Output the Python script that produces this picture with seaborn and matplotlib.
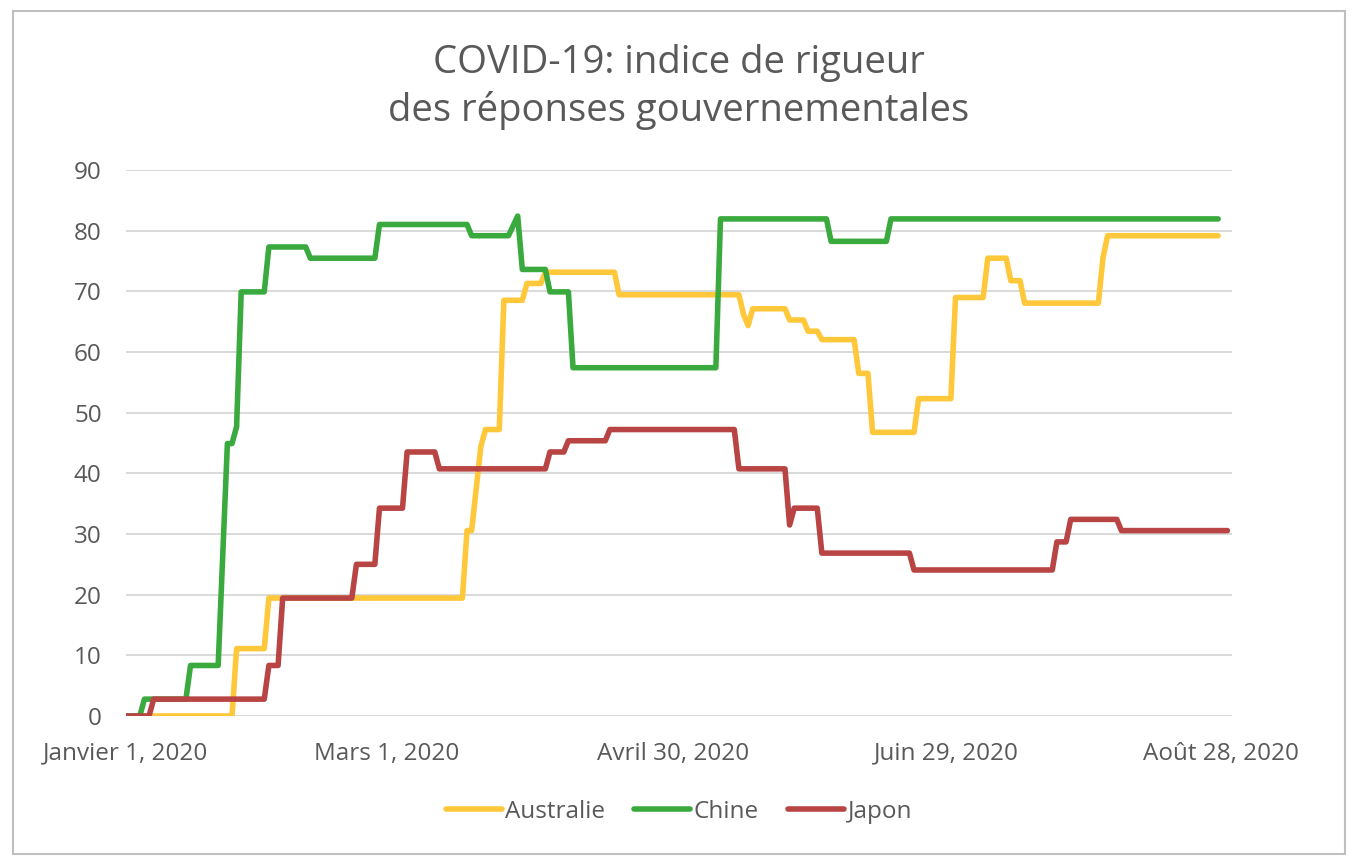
import numpy as np
import pandas as pd
import matplotlib
matplotlib.use("Agg")
import matplotlib.pyplot as plt
import matplotlib.dates as mdates
from matplotlib.lines import Line2D
from matplotlib.patches import Rectangle
from matplotlib.transforms import ScaledTranslation
import seaborn as sns

# ---- Data (change points: day offset from 2020-01-01 -> index value) ----
countries = ["Australie", "Chine", "Japon"]

aus_days = [0, 24, 31, 74, 76, 77, 78, 82, 87, 91, 107, 134, 135, 136, 144, 148,
            151, 159, 162, 172, 180, 187, 192, 195, 212, 213]
aus_vals = [0, 11.11, 19.44, 30.56, 37.5, 44.4, 47.22, 68.52, 71.3, 73.15, 69.44,
            66.2, 64.35, 67.13, 65.28, 63.43, 62.04, 56.48, 46.76, 52.31, 68.98,
            75.46, 71.76, 68.06, 75.5, 79.17]
aus_end = 237

chn_days = [0, 4, 14, 21, 22, 24, 25, 31, 40, 55, 75, 84, 85, 86, 92, 97, 129,
            153, 166]
chn_vals = [0, 2.78, 8.33, 26.6, 44.91, 47.69, 69.91, 77.31, 75.46, 81.02, 79.17,
            80.8, 82.41, 73.61, 69.91, 57.41, 81.94, 78.24, 81.94]
chn_end = 237

jpn_days = [0, 6, 31, 34, 50, 55, 61, 68, 92, 96, 105, 133, 144, 145, 151, 171,
            202, 205, 216]
jpn_vals = [0, 2.78, 8.33, 19.44, 25.0, 34.26, 43.52, 40.74, 43.52, 45.37, 47.22,
            40.74, 31.48, 34.26, 26.85, 24.07, 28.7, 32.41, 30.56]
jpn_end = 239

tick_dates = ["2020-01-01", "2020-03-01", "2020-04-30", "2020-06-29", "2020-08-28"]
tick_labels = ["Janvier 1, 2020", "Mars 1, 2020", "Avril 30, 2020",
               "Juin 29, 2020", "Août 28, 2020"]
y_ticks = [0, 10, 20, 30, 40, 50, 60, 70, 80, 90]

colors = {"Australie": "#FFC83A", "Chine": "#3AAA3F", "Japon": "#B84444"}
title = "COVID-19: indice de rigueur\ndes réponses gouvernementales"

# ---- Build daily table (values held between change points) ----
start = pd.Timestamp("2020-01-01")
frames = []
for name, days, vals, end in [("Australie", aus_days, aus_vals, aus_end),
                              ("Chine", chn_days, chn_vals, chn_end),
                              ("Japon", jpn_days, jpn_vals, jpn_end)]:
    s = pd.Series(vals, index=days).reindex(range(end + 1)).ffill()
    frames.append(pd.DataFrame({"date": start + pd.to_timedelta(s.index, unit="D"),
                                "indice": s.values, "pays": name}))
df = pd.concat(frames, ignore_index=True)

# ---- Plot ----
sns.set_theme(style="white")
plt.rcParams["font.family"] = ["Open Sans", "DejaVu Sans"]
grey = "#595959"

fig = plt.figure(figsize=(13.58, 8.68), dpi=100)
ax = fig.add_axes([126 / 1358, 1 - 716 / 868, (1232 - 126) / 1358, (716 - 170) / 868])

sns.lineplot(data=df, x="date", y="indice", hue="pays", hue_order=countries,
             palette=colors, linewidth=4, ax=ax, legend=False)
for ln in ax.lines:
    ln.set_solid_capstyle("round")
    ln.set_solid_joinstyle("round")

ax.set_xlim(start, start + pd.Timedelta(days=240))
ax.set_ylim(0, 90)
ax.set_yticks(y_ticks)
ax.set_xticks([pd.Timestamp(d) for d in tick_dates])
ax.set_xticklabels(tick_labels)
ax.set_xlabel("")
ax.set_ylabel("")
ax.yaxis.grid(True, color="#D9D9D9", linewidth=1.4)
ax.xaxis.grid(False)
ax.set_axisbelow(True)
for sp in ax.spines.values():
    sp.set_visible(False)
ax.tick_params(axis="both", length=0, labelsize=17.5, labelcolor=grey)
ax.tick_params(axis="y", pad=17.5)
ax.tick_params(axis="x", pad=18.5)

offsets = [0, -16, -6, -9, -11]
for lab, dx in zip(ax.get_xticklabels(), offsets):
    lab.set_transform(lab.get_transform() + ScaledTranslation(dx / 100, 0, fig.dpi_scale_trans))

fig.text(0.5, 1 - 87 / 868, title, ha="center", va="center", fontsize=27.5,
         color=grey, linespacing=1.32)

handles = [Line2D([0], [0], color=colors[c], lw=4, solid_capstyle="round") for c in countries]
fig.legend(handles, countries, loc="center", bbox_to_anchor=(0.5, 1 - 812 / 868),
           ncol=3, frameon=False, fontsize=17.5, labelcolor=grey,
           handlelength=2.3, handletextpad=0.15, columnspacing=1.2)

fig.patches.append(Rectangle((13 / 1358, 1 - 854 / 868), (1345 - 13) / 1358,
                             (854 - 11) / 868, transform=fig.transFigure,
                             fill=False, edgecolor="#BFBFBF", linewidth=1.5))

fig.savefig("out.png", dpi=100)
